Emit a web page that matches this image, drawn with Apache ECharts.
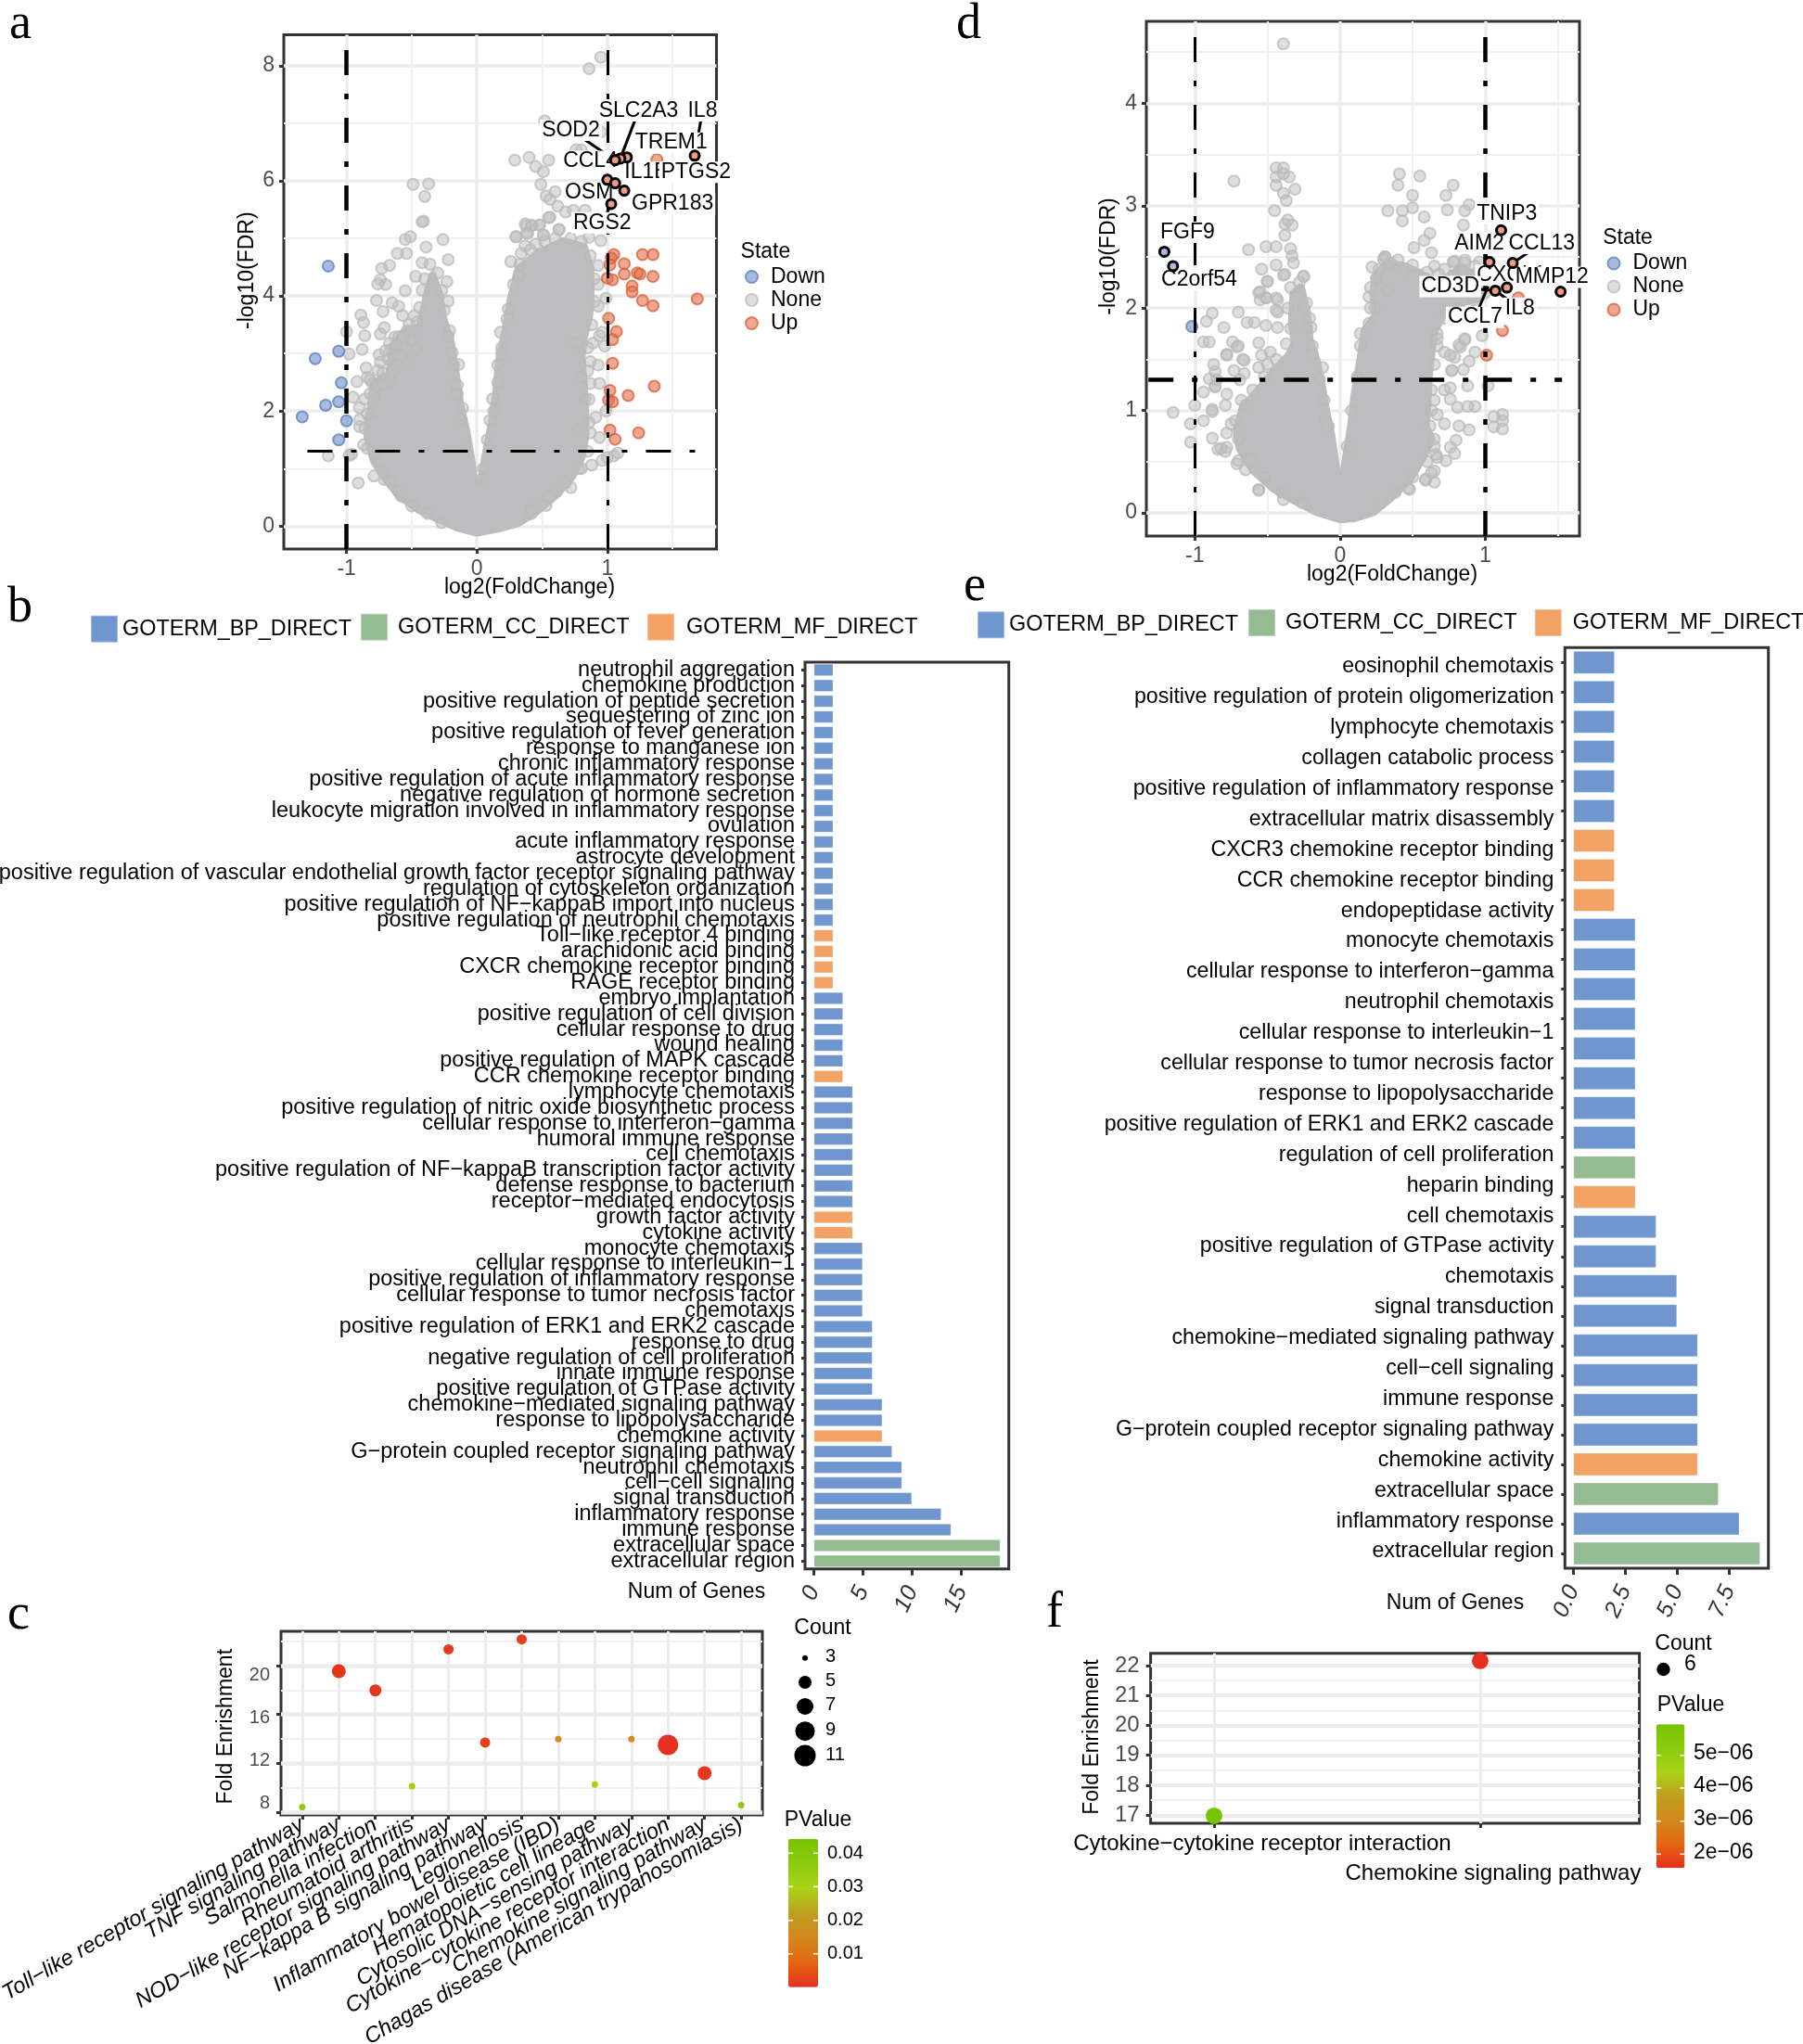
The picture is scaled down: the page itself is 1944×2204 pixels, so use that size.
<!DOCTYPE html>
<html>
<head>
<meta charset="utf-8">
<style>
html, body { margin: 0; background: #fff; }
#chart { width: 1944px; height: 2204px; }
</style>
<script src="https://cdn.jsdelivr.net/npm/echarts@6/dist/echarts.min.js"></script>
</head>
<body>
<div id="chart"></div>
<script>
// ---- panel a, volcano: [log2FC, -log10 FDR]
var cloudOutlineA = [[0,-0.11],[-0.15,-0.02],[-0.29,0.12],[-0.44,0.28],[-0.59,0.52],[-0.70,0.82],[-0.79,1.14],[-0.84,1.57],[-0.81,2.11],[-0.79,2.48],[-0.67,2.64],[-0.65,3.07],[-0.55,3.40],[-0.44,3.45],[-0.42,3.61],[-0.38,4.04],[-0.34,4.36],[-0.29,4.04],[-0.26,3.61],[-0.20,3.18],[-0.16,2.59],[-0.13,2.11],[-0.08,1.62],[-0.04,1.09],[-0.01,0.49],[0,0.36],[0.02,0.49],[0.06,1.14],[0.11,1.73],[0.15,2.32],[0.17,2.86],[0.22,3.40],[0.26,3.93],[0.32,4.47],[0.47,4.74],[0.66,4.95],[0.82,4.85],[0.87,4.47],[0.87,3.93],[0.86,3.66],[0.82,3.29],[0.80,2.91],[0.82,2.43],[0.83,1.94],[0.83,1.57],[0.80,1.19],[0.73,0.87],[0.61,0.55],[0.47,0.28],[0.32,0.06],[0.16,-0.04]];
var noneA = [[0.95,8.15],[0.86,7.95],[0.52,7.04],[0.95,6.85],[0.86,6.79],[0.76,6.54],[0.80,6.54],[0.29,6.36],[0.40,6.41],[0.55,6.36],[0.45,6.25],[0.51,6.16],[0.49,5.94],[0.60,5.81],[0.53,5.74],[0.56,5.68],[0.62,5.56],[0.68,5.46],[0.74,5.49],[0.83,5.49],[0.56,5.37],[0.37,5.25],[0.42,5.23],[0.48,5.23],[0.30,5.03],[0.39,5.09],[0.51,5.06],[0.63,5.15],[0.86,5.02],[0.95,4.96],[-0.49,5.94],[-0.37,5.95],[-0.40,5.73],[-0.41,5.30],
  [-0.61,4.74],[-0.54,4.74],[-0.55,4.98],[-0.51,5.03],[-0.42,5.29],[-0.26,4.98],[-0.39,4.85],[-0.42,4.58],[-0.22,4.63],[-0.73,4.48],[-0.67,4.53],[-0.74,4.28],[-0.70,4.20],[-0.76,4.21],[-0.55,4.09],[-0.47,4.34],[-0.23,4.25],[-0.77,3.92],[-0.65,3.88],[-0.72,3.73],[-0.60,3.82],[-0.57,3.66],[-0.22,3.91],[-0.48,3.66],[-0.89,3.67],[-0.87,3.54],[-0.86,3.31],[-1.00,3.38],[-0.74,3.34],[-0.71,3.45],[-0.63,3.29],[-0.53,3.40],[-0.66,3.07],[-0.88,3.07],[-0.98,2.99],[-0.75,2.98],[-0.61,2.97],[-0.46,3.07],[-0.14,2.81],[-0.76,2.71],[-0.61,2.80],[-0.53,2.86],[-0.84,2.59],[-0.92,2.51],[-0.80,2.48],[-0.67,2.54],[-0.95,2.24],[-0.86,2.21],[-0.90,2.06],[-0.79,2.27],[-0.90,1.85],[-0.90,1.73],[-0.81,1.94],[-0.87,1.41],[-0.96,1.25],[-0.79,0.87],[-0.71,0.81],[-0.91,0.75],[-0.58,0.52],[-0.48,0.39],[-0.27,0.06],[-0.11,2.05],[-0.15,2.45],[-0.19,3.02],[-0.21,3.40],[-0.82,2.54],[-0.77,2.43],[-0.72,2.48],[-0.65,2.70],[-0.58,2.97],[-0.51,3.24],[-0.67,3.18],[-0.60,3.29],[-1.14,1.22],[-0.98,1.23],
  [-0.60,0.60],[-0.66,0.78],[-0.72,0.95],[-0.78,1.25],[-0.84,1.35],[-0.86,1.70],[-0.84,1.95],[-0.82,2.30],[-0.72,2.66],[-0.68,2.90],[-0.62,3.15],[-0.57,3.30],[-0.52,3.50],[-0.46,3.55],[-0.44,3.80],[-0.42,4.10],[-0.40,4.30],[-0.36,4.55],[-0.30,4.40],[-0.27,4.10],[-0.25,3.75],[-0.22,3.30],[-0.18,2.80],[-0.15,2.30],[-0.12,1.85],[-0.09,1.40],[-0.38,0.22],[-0.50,0.35],[-0.70,3.05],[-0.74,2.85],[-0.85,2.75],
  [0.38,5.22],[0.48,5.23],[0.42,5.22],[0.55,5.36],[0.30,5.03],[0.38,5.09],[0.51,5.06],[0.63,5.16],[0.45,4.90],[0.37,4.87],[0.34,4.74],[0.26,4.60],[0.32,4.34],[0.24,3.77],[0.18,3.37],[0.19,3.10],[0.16,2.80],[0.12,2.21],[0.10,1.84],[0.04,0.82],[0.93,4.53],[0.93,4.20],[0.93,3.82],[0.99,3.96],[0.94,3.31],[0.96,3.37],[0.89,3.18],[0.98,3.13],[0.93,2.80],[0.87,2.86],[0.87,2.48],[0.94,2.48],[0.99,2.00],[0.91,1.89],[0.87,1.62],[0.94,1.54],[0.88,1.06],[0.80,1.00],[0.72,0.67],[0.61,0.60],[0.53,0.36],[0.42,0.28],[0.96,1.14],[1.05,1.22],[1.08,1.27],[1.00,1.19],[0.77,3.18],[0.73,3.18],[0.80,2.59],[0.83,2.21],[0.77,1.68],
  [0.05,1.00],[0.08,1.50],[0.13,2.00],[0.16,2.50],[0.19,3.00],[0.23,3.60],[0.28,4.20],[0.33,4.55],[0.41,4.80],[0.52,4.95],[0.60,5.00],[0.72,5.00],[0.80,4.95],[0.87,4.70],[0.90,4.30],[0.90,3.90],[0.88,3.50],[0.85,3.10],[0.85,2.70],[0.86,2.20],[0.86,1.80],[0.85,1.30],[0.78,1.00],[0.68,0.75],[0.55,0.50],[0.42,0.22]];
var downA = [[-1.14,4.52],[-1.06,3.04],[-1.24,2.91],[-1.04,2.49],[-1.06,2.16],[-1.16,2.10],[-1.34,1.90],[-1.00,1.83],[-1.06,1.50]];
var upA = [[1.05,4.72],[1.27,4.72],[1.35,4.72],[1.03,4.66],[1.02,4.54],[1.13,4.56],[1.13,4.38],[1.23,4.40],[1.25,4.38],[1.35,4.34],[1.00,4.31],[1.04,4.28],[1.19,4.17],[1.19,4.07],[1.27,3.92],[1.35,3.83],[1.69,3.95],[1.01,3.61],[1.07,3.38],[1.04,3.24],[1.04,2.83],[1.36,2.43],[1.02,2.36],[1.16,2.27],[1.01,2.19],[1.04,2.16],[1.02,1.67],[1.24,1.62],[1.06,1.51],[1.38,6.37]];
var ringedA = [[1.67,6.44,'Up'],[1.15,6.41,'Up'],[1.10,6.39,'Up'],[1.06,6.36,'Up'],[1.00,6.02,'Up'],[1.06,5.96,'Up'],[1.13,5.83,'Up'],[1.03,5.60,'Up']];
// gene, point x, point y, label x, label y, draw a leader line
var geneLabelsA = [['SLC2A3',1.10,6.39,1.24,7.22,1],['IL8',1.67,6.44,1.73,7.22,1],['SOD2',1.06,6.36,0.72,6.88,1],['TREM1',1.38,6.37,1.49,6.66,0],['CCL4',1.06,6.36,0.87,6.34,0],['IL1B',1.15,6.41,1.30,6.15,0],['PTGS2',1.38,6.37,1.68,6.15,0],['OSM',1.06,5.96,0.86,5.80,1],['GPR183',1.13,5.83,1.50,5.60,0],['RGS2',1.03,5.60,0.96,5.27,1]];

// ---- panel d, volcano
var cloudOutlineD = [[0,-0.06],[-0.16,0.01],[-0.31,0.12],[-0.46,0.24],[-0.60,0.42],[-0.69,0.63],[-0.71,0.81],[-0.67,1.02],[-0.56,1.20],[-0.43,1.42],[-0.35,1.54],[-0.31,1.66],[-0.33,1.84],[-0.32,2.14],[-0.27,2.20],[-0.23,1.97],[-0.21,1.69],[-0.16,1.48],[-0.13,1.27],[-0.10,1.02],[-0.06,0.75],[-0.03,0.45],[0,0.21],[0.01,0.21],[0.04,0.51],[0.08,0.87],[0.10,1.14],[0.15,1.57],[0.17,1.78],[0.25,1.93],[0.23,2.14],[0.25,2.32],[0.33,2.44],[0.44,2.41],[0.55,2.34],[0.63,2.26],[0.72,2.26],[0.82,2.38],[0.97,2.31],[0.97,2.10],[0.82,2.05],[0.72,1.96],[0.65,1.78],[0.63,1.57],[0.61,1.33],[0.60,1.02],[0.59,0.84],[0.63,0.72],[0.57,0.54],[0.48,0.33],[0.35,0.15],[0.23,0.01],[0.10,-0.05]];
var noneD = [[-0.39,4.58],[-0.73,3.24],[-0.44,3.37],[-0.39,3.37],[-0.44,3.28],[-0.39,3.31],[-0.35,3.28],[-0.44,3.20],[-0.39,3.12],[-0.31,3.16],[-0.37,3.05],[-0.45,2.95],[-0.36,2.86],[-0.38,2.82],[-0.33,2.81],[-0.38,2.71],[-0.51,2.60],[-0.44,2.60],[-0.63,2.57],[-0.34,2.58],[-0.33,2.51],[-0.32,2.44],[-0.44,2.42],[-0.54,2.38],[-0.38,2.33],[-0.25,2.31],[-0.50,2.26],[-0.56,2.15],[-0.55,2.08],[-0.51,2.10],[-0.44,2.10],[-0.44,1.98],[-0.88,1.95],[-0.70,1.96],[-0.92,1.87],[-0.80,1.81],[-0.64,1.86],[-0.59,1.86],[-0.51,1.83],[-0.94,1.67],[-0.90,1.67],[-0.74,1.67],[-0.71,1.62],[-0.78,1.54],[-0.56,1.66],[-0.87,1.45],[-0.86,1.38],[-0.67,1.50],[-0.90,1.31],[-0.86,1.24],[-0.94,1.18],[-1.15,0.98],[-1.00,1.05],[-0.88,1.01],[-1.03,0.87],[-0.94,0.90],[-1.03,0.69],[-0.88,0.73],[-0.84,0.62],[-0.78,0.64],[-0.71,0.48],[-0.56,0.23],
  [-0.78,1.55],[-0.70,1.63],[-0.66,1.49],[-0.54,1.54],[-0.48,1.57],[-0.73,1.39],[-0.66,1.36],[-0.56,1.42],[-0.50,1.45],[-0.85,1.30],[-0.69,1.30],[-0.86,1.23],[-0.78,1.16],[-0.88,0.99],[-0.79,1.05],[-0.65,1.05],[-0.75,0.87],[-0.78,0.78],[-0.82,0.63],[-0.79,0.60],[-0.70,0.51],[-0.65,0.42],[-0.56,0.22],[-0.39,0.13],[-0.43,1.81],[-0.43,1.96],[-0.51,2.10],[-0.43,2.08],[-0.55,2.16],[-0.25,2.31],[-0.39,2.32],[-0.50,2.26],[-0.23,2.05],[-0.21,1.90],[-0.20,1.81],[-0.19,1.63],[-0.12,1.42],[-0.10,0.90],
  [-0.70,0.72],[-0.72,0.90],[-0.68,1.10],[-0.60,1.20],[-0.52,1.33],[-0.44,1.50],[-0.37,1.65],[-0.34,1.80],[-0.36,2.00],[-0.34,2.20],[-0.28,2.25],[-0.25,2.00],[-0.23,1.80],[-0.19,1.55],[-0.14,1.30],[-0.11,1.10],[-0.08,0.85],[-0.52,0.35],[-0.62,0.52],[-0.40,0.20],[-0.26,0.10],
  [0.41,3.31],[0.55,3.29],[0.40,3.20],[0.78,3.20],[0.50,3.10],[0.73,3.10],[0.50,2.98],[0.74,2.96],[0.33,2.95],[0.43,2.95],[0.89,3.01],[0.86,2.95],[0.43,2.85],[0.58,2.89],[0.85,2.81],[0.62,2.73],[0.58,2.66],[0.51,2.59],[0.63,2.54],[0.31,2.50],[0.78,2.45],[0.86,2.47],[0.83,2.38],[0.96,2.45],[0.98,1.73],[0.86,1.70],[0.83,1.62],[0.93,1.57],[0.79,1.52],[0.89,1.48],[0.85,1.40],[0.77,1.39],[1.02,1.24],[0.88,1.24],[0.76,1.22],[0.93,1.04],[0.88,1.04],[0.81,1.03],[1.06,0.94],[1.12,0.96],[1.12,0.90],[1.06,0.84],[1.12,0.82],[0.82,0.85],[0.89,0.81],[0.80,0.71],[0.76,0.64],[0.79,0.58],[0.73,0.51],[0.66,0.57],[0.65,0.41],[0.59,0.32],[0.65,0.30],[0.48,0.23],
  [0.25,2.29],[0.20,2.11],[0.24,2.00],[0.31,2.50],[0.27,2.38],[0.35,2.44],[0.44,2.38],[0.33,2.17],[0.14,1.63],[0.12,1.33],[0.07,0.60],[0.59,2.29],[0.65,2.41],[0.72,2.38],[0.79,2.46],[0.86,2.44],[0.93,2.41],[0.78,2.32],[0.67,1.75],[0.72,1.57],[0.76,1.54],[0.82,1.64],[0.67,1.63],[0.77,1.39],[0.86,1.69],[0.72,1.20],[0.76,1.11],[0.65,1.10],[0.67,0.96],[0.72,0.87],[0.65,0.72],[0.67,0.54],[0.63,0.39],[0.59,0.33],[0.47,0.24],[0.28,0.10],
  [0.05,0.65],[0.08,1.00],[0.12,1.30],[0.14,1.75],[0.20,1.85],[0.21,2.00],[0.21,2.20],[0.22,2.40],[0.30,2.48],[0.40,2.47],[0.50,2.42],[0.60,2.35],[0.68,2.33],[0.85,2.36],[0.95,2.35],[1.00,2.25],[1.00,2.15],[0.92,2.08],[0.82,2.00],[0.72,1.90],[0.67,1.70],[0.65,1.45],[0.63,1.20],[0.63,1.00],[0.62,0.85],[0.65,0.65],[0.60,0.50],[0.50,0.35],[0.38,0.20]];
var downD = [[-1.02,1.82]];
var upD = [[1.12,1.78],[1.01,1.54],[1.23,2.10]];
var ringedD = [[-1.21,2.55,'Down'],[-1.15,2.41,'Down'],[1.11,2.76,'Up'],[1.52,2.16,'Up'],[1.03,2.45,'Up'],[1.19,2.44,'Up'],[1.07,2.17,'Up'],[1.15,2.20,'Up']];
var geneLabelsD = [['FGF9',-1.21,2.55,-1.05,2.74,0],['C2orf54',-1.15,2.41,-0.97,2.28,0],['TNIP3',1.11,2.76,1.15,2.92,0],['AIM2',1.03,2.45,0.96,2.63,1],['CCL13',1.19,2.44,1.39,2.63,1],['CXCL1',1.15,2.20,1.18,2.32,1],['MMP12',1.52,2.16,1.46,2.30,0],['CD3D',1.07,2.17,0.76,2.21,1],['IL8',1.07,2.17,1.24,2.00,1],['CCL7',1.02,2.21,0.93,1.91,1]];

// ---- panel b, GO terms
var termsB = ['neutrophil aggregation','chemokine production','positive regulation of peptide secretion','sequestering of zinc ion','positive regulation of fever generation','response to manganese ion','chronic inflammatory response','positive regulation of acute inflammatory response','negative regulation of hormone secretion','leukocyte migration involved in inflammatory response','ovulation','acute inflammatory response','astrocyte development','positive regulation of vascular endothelial growth factor receptor signaling pathway','regulation of cytoskeleton organization','positive regulation of NF\u2212kappaB import into nucleus','positive regulation of neutrophil chemotaxis','Toll\u2212like receptor 4 binding','arachidonic acid binding','CXCR chemokine receptor binding','RAGE receptor binding','embryo implantation','positive regulation of cell division','cellular response to drug','wound healing','positive regulation of MAPK cascade','CCR chemokine receptor binding','lymphocyte chemotaxis','positive regulation of nitric oxide biosynthetic process','cellular response to interferon\u2212gamma','humoral immune response','cell chemotaxis','positive regulation of NF\u2212kappaB transcription factor activity','defense response to bacterium','receptor\u2212mediated endocytosis','growth factor activity','cytokine activity','monocyte chemotaxis','cellular response to interleukin\u22121','positive regulation of inflammatory response','cellular response to tumor necrosis factor','chemotaxis','positive regulation of ERK1 and ERK2 cascade','response to drug','negative regulation of cell proliferation','innate immune response','positive regulation of GTPase activity','chemokine\u2212mediated signaling pathway','response to lipopolysaccharide','chemokine activity','G\u2212protein coupled receptor signaling pathway','neutrophil chemotaxis','cell\u2212cell signaling','signal transduction','inflammatory response','immune response','extracellular space','extracellular region'];
var genesB = [2,2,2,2,2,2,2,2,2,2,2,2,2,2,2,2,2,2,2,2,2,3,3,3,3,3,3,4,4,4,4,4,4,4,4,4,4,5,5,5,5,5,6,6,6,6,6,7,7,7,8,9,9,10,13,14,19,19];
var groupsB = 'BBBBBBBBBBBBBBBBB' + 'MMMM' + 'BBBBB' + 'M' + 'BBBBBBBB' + 'MM' + 'BBBBBBBBBBBB' + 'M' + 'BBBBBB' + 'CC';

// ---- panel e, GO terms: the picture holds 31 bars but only 30 readable labels
var termsE = ['eosinophil chemotaxis','positive regulation of protein oligomerization','lymphocyte chemotaxis','collagen catabolic process','positive regulation of inflammatory response','extracellular matrix disassembly','CXCR3 chemokine receptor binding','CCR chemokine receptor binding','endopeptidase activity','monocyte chemotaxis','cellular response to interferon\u2212gamma','neutrophil chemotaxis','cellular response to interleukin\u22121','cellular response to tumor necrosis factor','response to lipopolysaccharide','positive regulation of ERK1 and ERK2 cascade','regulation of cell proliferation','heparin binding','cell chemotaxis','positive regulation of GTPase activity','chemotaxis','signal transduction','chemokine\u2212mediated signaling pathway','cell\u2212cell signaling','immune response','G\u2212protein coupled receptor signaling pathway','chemokine activity','extracellular space','inflammatory response','extracellular region'];
var genesE = [2,2,2,2,2,2,2,2,2,3,3,3,3,3,3,3,3,3,3,4,4,5,5,6,6,6,6,6,7,8,9];
var groupsE = 'BBBBBB' + 'MMM' + 'BBBBBBBB' + 'C' + 'M' + 'BBBBBBBB' + 'M' + 'C' + 'B' + 'C';

// ---- panel c, KEGG bubbles
var pathwaysC = ['Toll\u2212like receptor signaling pathway','TNF signaling pathway','Salmonella infection','Rheumatoid arthritis','NOD\u2212like receptor signaling pathway','NF\u2212kappa B signaling pathway','Legionellosis','Inflammatory bowel disease (IBD)','Hematopoietic cell lineage','Cytosolic DNA\u2212sensing pathway','Cytokine\u2212cytokine receptor interaction','Chemokine signaling pathway','Chagas disease (American trypanosomiasis)'];
var foldC = [8.42,19.54,17.97,10.14,21.33,13.7,22.14,13.98,10.27,13.98,13.5,11.2,8.58];
var countC = [3,6,5,3,4,4,4,3,3,3,11,6,3];
var pvalueC = [0.036,0.0005,0.001,0.032,0.0015,0.002,0.002,0.016,0.031,0.016,0.0001,0.001,0.037];
var countTicksC = [3,5,7,9,11];
var pvalueTicksC = [0.04,0.03,0.02,0.01];

// ---- panel f, KEGG bubbles
var pathwaysF = ['Cytokine\u2212cytokine receptor interaction','Chemokine signaling pathway'];
var foldF = [16.98,22.16];
var countF = [6,6];
var pvalueF = [5.94e-6,1.58e-6];
var pvalueTicksF = ['5e\u221206','4e\u221206','3e\u221206','2e\u221206'];

var FONT = 'Liberation Sans';
var INK = '#333333';
var TICK_TEXT = '#4d4d4d';
var GRID_MAJOR = '#ececec';
var GRID_MINOR = '#f1f1f1';
var goColors = { B: '#7096cf', C: '#95bb92', M: '#f3a266' };
var goNames = { B: 'GOTERM_BP_DIRECT', C: 'GOTERM_CC_DIRECT', M: 'GOTERM_MF_DIRECT' };
var pColors = ['#e5301f', '#e2660f', '#d3891d', '#bf9f20', '#aad318', '#8ccb0c', '#78c400'];
var stateStyle = {
    Down: { color: 'rgba(110,140,200,0.6)', borderColor: 'rgba(100,135,195,0.85)' },
    None: { color: 'rgba(190,190,190,0.5)', borderColor: 'rgba(185,185,187,0.75)' },
    Up: { color: 'rgba(226,110,72,0.6)', borderColor: 'rgba(215,95,55,0.75)' }
};
var sizeForCount = { 3: 7, 4: 11, 5: 13, 6: 15, 7: 17, 9: 20, 11: 22 };

var grids = [], xAxes = [], yAxes = [], series = [], legends = [], visualMaps = [], graphics = [];

function addGrid(left, top, width, height) {
    grids.push({ left: left, top: top, width: width, height: height, outerBoundsMode: 'none', show: true, backgroundColor: 'transparent', borderColor: INK, borderWidth: 3 });
    return grids.length - 1;
}
function addBlankGrid(left, top, width, height) {
    grids.push({ left: left, top: top, width: width, height: height, outerBoundsMode: 'none', show: false });
    return grids.length - 1;
}
function tickStyle(values, length) {
    return { show: true, length: length || 5, customValues: values, lineStyle: { color: INK, width: 3 } };
}
function valueAxis(grid, pos, min, max, major, extra) {
    var axis = {
        type: 'value', gridIndex: grid, position: pos, min: min, max: max,
        axisLine: { show: false, onZero: false },
        axisTick: tickStyle(major),
        axisLabel: { show: true, customValues: major, showMinLabel: true, showMaxLabel: true, hideOverlap: false, fontFamily: FONT, fontSize: 23, color: TICK_TEXT },
        splitLine: { show: true, lineStyle: { color: GRID_MAJOR, width: 3.5 } }
    };
    if (extra && extra.label) { Object.assign(axis.axisLabel, extra.label); }
    if (extra && extra.noGrid) { axis.splitLine.show = false; }
    if (extra && extra.gridWidth) { axis.splitLine.lineStyle.width = extra.gridWidth; }
    return axis;
}
function minorAxis(grid, pos, min, max, values) {
    return {
        type: 'value', gridIndex: grid, position: pos, min: min, max: max,
        axisLine: { show: false, onZero: false }, axisLabel: { show: false },
        axisTick: { show: false, customValues: values },
        splitLine: { show: true, lineStyle: { color: GRID_MINOR, width: 2 } }
    };
}
function text(x, y, str, size, opts) {
    opts = opts || {};
    graphics.push({
        type: 'text', x: x, y: y, rotation: opts.rotation || 0, z: 50, silent: true,
        style: {
            text: str, fontFamily: opts.family || FONT, fontSize: size, fontStyle: opts.fontStyle || 'normal',
            fill: opts.fill || '#000', align: opts.align || 'center', verticalAlign: opts.baseline || 'middle'
        }
    });
}
function tickOnBar(x1, x2, y) {
    graphics.push({ type: 'line', z: 50, silent: true, shape: { x1: x1, y1: y, x2: x1 + 5, y2: y }, style: { stroke: '#fff', lineWidth: 1.5 } });
    graphics.push({ type: 'line', z: 50, silent: true, shape: { x1: x2 - 5, y1: y, x2: x2, y2: y }, style: { stroke: '#fff', lineWidth: 1.5 } });
}

function addVolcano(cfg) {
    var g = addGrid(cfg.left, cfg.top, cfg.width, cfg.height);
    var xi = xAxes.length, yi = yAxes.length;
    xAxes.push(valueAxis(g, 'bottom', cfg.xMin, cfg.xMax, [-1, 0, 1], { label: { margin: 10 } }));
    xAxes.push(minorAxis(g, 'top', cfg.xMin, cfg.xMax, [-0.5, 0.5, 1.5]));
    yAxes.push(valueAxis(g, 'left', cfg.yMin, cfg.yMax, cfg.yMajor, { label: { margin: 10, padding: [0, 0, 8, 0] } }));
    yAxes.push(minorAxis(g, 'right', cfg.yMin, cfg.yMax, cfg.yMinor));

    var outline = cfg.outline;
    series.push({
        type: 'custom', name: 'cloud', xAxisIndex: xi, yAxisIndex: yi, z: 2, silent: true, clip: true,
        data: outline,
        renderItem: function (params, api) {
            if (params.dataIndex !== 0) { return null; }
            return {
                type: 'polygon',
                shape: { points: outline.map(function (p) { return api.coord(p); }) },
                style: { fill: '#bdbdbf', stroke: '#bdbdbf', lineWidth: 9, lineJoin: 'round' }
            };
        }
    });
    [['None', cfg.none, 3], ['Down', cfg.down, 4], ['Up', cfg.up, 4]].forEach(function (s) {
        series.push({
            type: 'scatter', name: s[0], xAxisIndex: xi, yAxisIndex: yi, z: s[2], data: s[1],
            symbolSize: 12, itemStyle: { color: stateStyle[s[0]].color, borderColor: stateStyle[s[0]].borderColor, borderWidth: 2, opacity: 1 }
        });
    });
    // reference lines: the pattern is long dash, gap, dot, gap
    series.push({
        type: 'scatter', name: 'thresholds', xAxisIndex: xi, yAxisIndex: yi, z: 5, data: [], silent: true,
        markLine: {
            silent: true, symbol: 'none', animation: false, label: { show: false },
            data: [
                [{ coord: [cfg.hFrom, 1.3], lineStyle: { color: '#000', width: cfg.hWidth, type: [27, 20, 6, 20] } }, { coord: [cfg.hTo, 1.3] }],
                [{ coord: [-1, cfg.yMin], lineStyle: { color: '#000', width: cfg.vWidths[0], type: [27, 20, 6, 20] } }, { coord: [-1, cfg.yMax] }],
                [{ coord: [1, cfg.yMin], lineStyle: { color: '#000', width: cfg.vWidths[1], type: [27, 20, 6, 20] } }, { coord: [1, cfg.yMax] }]
            ]
        }
    });
    var labels = cfg.labels;
    series.push({
        type: 'custom', name: 'genes', xAxisIndex: xi, yAxisIndex: yi, z: 6, silent: true, clip: false,
        data: labels.map(function (l) { return [l[1], l[2]]; }),
        renderItem: function (params, api) {
            var l = labels[params.dataIndex];
            var from = api.coord([l[1], l[2]]), to = api.coord([l[3], l[4]]);
            var kids = [];
            if (l[5]) {
                kids.push({ type: 'line', shape: { x1: from[0], y1: from[1], x2: to[0], y2: to[1] }, style: { stroke: '#000', lineWidth: 3 } });
            }
            kids.push({
                type: 'text', x: to[0], y: to[1],
                style: { text: l[0], fontFamily: FONT, fontSize: 23, fill: '#000', align: 'center', verticalAlign: 'middle', backgroundColor: '#fff', padding: [0, 2] }
            });
            return { type: 'group', children: kids };
        }
    });
    series.push({
        type: 'scatter', name: 'labelled', xAxisIndex: xi, yAxisIndex: yi, z: 7, data: cfg.ringed, symbolSize: 10,
        itemStyle: {
            borderColor: '#000', borderWidth: 3, opacity: 1,
            color: function (p) { return p.data[2] === 'Down' ? '#a9bcdd' : '#ec9c80'; }
        }
    });
}

addVolcano({
    left: 306, top: 37.5, width: 466.5, height: 554.5,
    xMin: -1.481, xMax: 1.837, yMin: -0.398, yMax: 8.54,
    yMajor: [0, 2, 4, 6, 8], yMinor: [1, 3, 5, 7],
    outline: cloudOutlineA, none: noneA, down: downA, up: upA, ringed: ringedA, labels: geneLabelsA,
    hFrom: -1.3, hTo: 1.71, hWidth: 3, vWidths: [4.5, 3]
});
addVolcano({
    left: 1236, top: 23, width: 467, height: 555,
    xMin: -1.334, xMax: 1.65, yMin: -0.226, yMax: 4.80,
    yMajor: [0, 1, 2, 3, 4], yMinor: [0.5, 1.5, 2.5, 3.5, 4.5],
    outline: cloudOutlineD, none: noneD, down: downD, up: upD, ringed: ringedD, labels: geneLabelsD,
    hFrom: -1.32, hTo: 1.53, hWidth: 4.5, vWidths: [3, 4.5]
});

function addBars(cfg) {
    var g = addGrid(cfg.left, cfg.top, cfg.width, cfg.height);
    var xi = xAxes.length, yi = yAxes.length;
    xAxes.push(valueAxis(g, 'bottom', cfg.xMin, cfg.xMax, cfg.xTicks, {
        noGrid: true,
        label: { rotate: 65, fontStyle: 'italic', color: INK, margin: 20, fontSize: 25, formatter: cfg.xFormat }
    }));
    xAxes[xi].axisTick.length = 7;
    var rowNames = cfg.genes.map(function (v, i) { return cfg.hideRowLabels ? String(i + 1) : cfg.terms[i]; });
    yAxes.push({
        type: 'category', gridIndex: g, inverse: true, data: rowNames,
        axisLine: { show: false, onZero: false },
        axisTick: { show: true, alignWithLabel: true, length: 4, lineStyle: { color: INK, width: 3 }, interval: 0 },
        axisLabel: { show: !cfg.hideRowLabels, interval: 0, fontFamily: FONT, fontSize: 23.5, color: '#000', margin: 11, hideOverlap: false },
        splitLine: { show: false }
    });
    ['B', 'C', 'M'].forEach(function (key) {
        series.push({
            type: 'bar', name: goNames[key], xAxisIndex: xi, yAxisIndex: yi, stack: 'go' + g, barWidth: cfg.barWidth,
            itemStyle: { color: goColors[key], borderColor: 'rgba(255,255,255,0.35)', borderWidth: 1 },
            data: cfg.genes.map(function (v, i) { return cfg.groups[i] === key ? v : null; })
        });
    });
    if (cfg.hideRowLabels) {
        // labels sit on their own band, their spacing differs from the bars
        var lg = addBlankGrid(cfg.left, cfg.labelTop, cfg.width, cfg.labelHeight);
        xAxes.push({ type: 'value', gridIndex: lg, show: false, min: 0, max: 1, splitLine: { show: false } });
        yAxes.push({
            type: 'category', gridIndex: lg, inverse: true, data: cfg.terms,
            axisLine: { show: false, onZero: false }, axisTick: { show: false },
            axisLabel: { interval: 0, fontFamily: FONT, fontSize: 23.2, color: '#000', margin: 12, hideOverlap: false },
            splitLine: { show: false }
        });
    }
}
addBars({
    left: 868, top: 714, width: 219.7, height: 977.7, xMin: -0.88, xMax: 19.85, xTicks: [0, 5, 10, 15],
    terms: termsB, genes: genesB, groups: groupsB, barWidth: 13.5
});
addBars({
    left: 1687.3, top: 698.3, width: 219.4, height: 992.7, xMin: -0.40, xMax: 9.39, xTicks: [0, 2.5, 5, 7.5],
    xFormat: function (v) { return v.toFixed(1); },
    terms: termsE, genes: genesE, groups: groupsE, barWidth: 25, hideRowLabels: true, labelTop: 702.5, labelHeight: 987
});

function goLegend(key, left, top, textPad) {
    legends.push({
        left: left, top: top, padding: 0, selectedMode: false, itemWidth: 29, itemHeight: 29, icon: 'rect',
        data: [goNames[key]],
        textStyle: { fontFamily: FONT, fontSize: 23.4, color: '#000', padding: textPad }
    });
}
goLegend('B', 97, 662.7, [0, 0, 6, 0]);
goLegend('C', 388, 660.7, [0, 0, 6, 6]);
goLegend('M', 697, 660.7, [0, 0, 4, 8]);
goLegend('B', 1053, 658.3, [0, 0, 4, 0]);
goLegend('C', 1345, 656, [0, 0, 4, 6]);
goLegend('M', 1653.8, 656, [0, 0, 4, 7]);

function stateLegend(left, top) {
    legends.push({
        left: left, top: top, padding: 0, orient: 'vertical', selectedMode: false, itemWidth: 13, itemHeight: 13, itemGap: 2, icon: 'circle',
        data: ['Down', 'None', 'Up'],
        textStyle: { fontFamily: FONT, fontSize: 23, color: '#000', lineHeight: 13, padding: [0, 0, 8, 9] }
    });
}
stateLegend(803, 287);
stateLegend(1732.5, 272.5);

// panel c
(function () {
    var g = addGrid(303, 1759, 519, 198);
    var xi = xAxes.length, yi = yAxes.length;
    var xMin = -0.58, xMax = 12.58, yMin = 7.78, yMax = 22.8;
    var ticks = pathwaysC.map(function (n, i) { return i; });
    xAxes.push(valueAxis(g, 'bottom', xMin, xMax, ticks, {
        gridWidth: 3,
        label: {
            // blank labels at both ends keep the first and last pathway from being dropped as overlaps
            customValues: [xMin].concat(ticks, [xMax]), showMinLabel: false, showMaxLabel: false,
            rotate: 30, fontStyle: 'italic', color: '#000', margin: 9, fontSize: 23.5,
            formatter: function (v) { return pathwaysC[v] || ''; }
        }
    }));
    yAxes.push(valueAxis(g, 'left', yMin, yMax, [8, 12, 16, 20], { label: { show: false }, gridWidth: 4.5 }));
    yAxes.push(minorAxis(g, 'right', yMin, yMax, [10, 14, 18, 22]));
    series.push({
        type: 'scatter', name: 'KEGG c', xAxisIndex: xi, yAxisIndex: yi, z: 4, itemStyle: { opacity: 1 },
        data: pathwaysC.map(function (n, i) { return [i, foldC[i], countC[i], pvalueC[i]]; }),
        symbolSize: function (d) { return sizeForCount[d[2]]; }
    });
    visualMaps.push({
        type: 'continuous', seriesIndex: series.length - 1, dimension: 3, min: 0.00003, max: 0.0443, calculable: false, hoverLink: false,
        left: 850, top: 1982.7, itemWidth: 32, itemHeight: 160, padding: 0, text: null, showLabel: false,
        inRange: { color: pColors }, textStyle: { fontSize: 1, color: 'transparent' }
    });
    // tick labels of this panel are drawn squeezed together, on their own scale
    var lg = addBlankGrid(303, 1759, 519, 198);
    xAxes.push({ type: 'value', gridIndex: lg, show: false, min: 0, max: 1, splitLine: { show: false } });
    yAxes.push({
        type: 'value', gridIndex: lg, position: 'left', min: 6.87, max: 24.09,
        axisLine: { show: false, onZero: false }, axisTick: { show: false, customValues: [8, 12, 16, 20] }, splitLine: { show: false },
        axisLabel: { customValues: [8, 12, 16, 20], fontFamily: FONT, fontSize: 20, color: TICK_TEXT, margin: 12 }
    });
    text(243.7, 1861.7, 'Fold Enrishment', 23, { rotation: Math.PI / 2 });
    text(887, 1756, 'Count', 23);
    var dotY = [1787.7, 1814, 1840, 1866.7, 1893], labelY = [1786, 1812, 1838, 1865.7, 1892], dotR = [3, 7, 9, 10.5, 11.5];
    countTicksC.forEach(function (c, i) {
        graphics.push({ type: 'circle', z: 50, silent: true, shape: { cx: 868, cy: dotY[i], r: dotR[i] }, style: { fill: '#000' } });
        text(890, labelY[i], String(c), 20, { align: 'left' });
    });
    text(882, 1962.7, 'PValue', 23);
    var tickY = [1998.3, 2034.3, 2070.7, 2106.7];
    pvalueTicksC.forEach(function (p, i) {
        tickOnBar(850, 882, tickY[i]);
        text(892, tickY[i], String(p), 20, { align: 'left' });
    });
})();

// panel f
(function () {
    var g = addGrid(1240.6, 1782.7, 527, 183.3);
    var xi = xAxes.length, yi = yAxes.length;
    var yMin = 16.73, yMax = 22.41;
    xAxes.push(valueAxis(g, 'bottom', -0.238, 1.598, [0, 1], {
        gridWidth: 3,
        label: {
            margin: 10, color: '#000',
            formatter: function (v) { return '{a' + v + '|' + pathwaysF[v] + '}'; },
            rich: {
                a0: { fontFamily: FONT, fontSize: 24, padding: [0, 0, 0, 104] },
                a1: { fontFamily: FONT, fontSize: 24, padding: [32, 0, 0, 28] }
            }
        }
    }));
    yAxes.push(valueAxis(g, 'left', yMin, yMax, [17, 18, 19, 20, 21, 22], { label: { margin: 12, fontSize: 24, padding: [6, 0, 0, 0] }, gridWidth: 4 }));
    yAxes.push(minorAxis(g, 'right', yMin, yMax, [17.5, 18.5, 19.5, 20.5, 21.5]));
    series.push({
        type: 'scatter', name: 'KEGG f', xAxisIndex: xi, yAxisIndex: yi, z: 4, symbolSize: 18, itemStyle: { opacity: 1 },
        data: pathwaysF.map(function (n, i) { return [i, foldF[i], countF[i], pvalueF[i]]; })
    });
    visualMaps.push({
        type: 'continuous', seriesIndex: series.length - 1, dimension: 3, min: 1.58e-6, max: 5.94e-6, calculable: false, hoverLink: false,
        left: 1785.8, top: 1859.3, itemWidth: 30.6, itemHeight: 155, padding: 0, text: null, showLabel: false,
        inRange: { color: pColors }, textStyle: { fontSize: 1, color: 'transparent' }
    });
    text(1178, 1873, 'Fold Enrishment', 23, { rotation: Math.PI / 2 });
    text(1815, 1772.7, 'Count', 23);
    graphics.push({ type: 'circle', z: 50, silent: true, shape: { cx: 1793.5, cy: 1800, r: 7.2 }, style: { fill: '#000' } });
    text(1816, 1795, '6', 23, { align: 'left' });
    text(1823, 1839, 'PValue', 23);
    var tickY = [1892.7, 1928, 1963.7, 1999.3];
    pvalueTicksF.forEach(function (p, i) {
        tickOnBar(1785.8, 1816.4, tickY[i]);
        text(1826, tickY[i] - 2, p, 23, { align: 'left' });
    });
})();

// free text: axis titles, legend titles, panel letters
text(267, 291.7, '-log10(FDR)', 23, { rotation: Math.PI / 2 });
text(571, 634, 'log2(FoldChange)', 23);
text(798.6, 271.4, 'State', 23, { align: 'left' });
text(1195.6, 276.5, '-log10(FDR)', 23, { rotation: Math.PI / 2 });
text(1501, 620, 'log2(FoldChange)', 23);
text(1728.2, 257, 'State', 23, { align: 'left' });
text(751, 1716.7, 'Num of Genes', 23);
text(1569, 1729, 'Num of Genes', 23);
[['a', 10, 54], ['d', 1031, 54], ['b', 8, 683], ['e', 1039, 660], ['c', 8, 1769], ['f', 1128, 1767]].forEach(function (p) {
    text(p[1], p[2], p[0], 54, { family: 'Liberation Serif', align: 'left', baseline: 'bottom' });
});

var chart = echarts.init(document.getElementById('chart'));
chart.setOption({
    animation: false,
    backgroundColor: '#fff',
    textStyle: { fontFamily: FONT },
    grid: grids,
    xAxis: xAxes,
    yAxis: yAxes,
    legend: legends,
    visualMap: visualMaps,
    series: series,
    graphic: { elements: graphics }
});
</script>
</body>
</html>
